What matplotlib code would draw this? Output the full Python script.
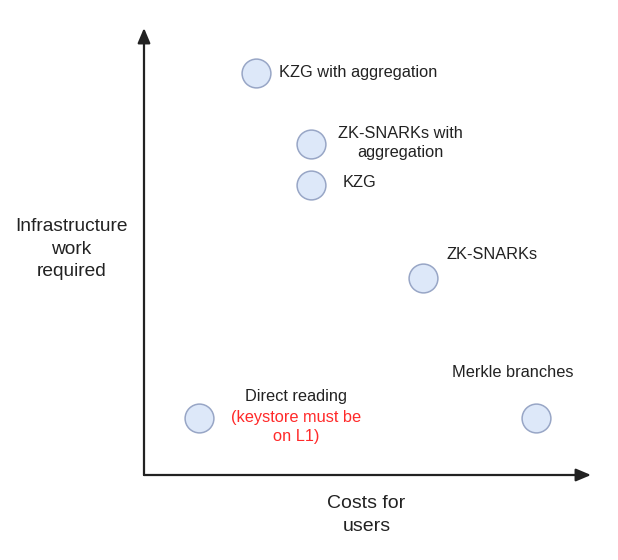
import matplotlib
matplotlib.use("Agg")
import matplotlib.pyplot as plt

plt.rcParams["font.family"] = ["Liberation Sans", "DejaVu Sans"]

# options plotted: cost for users (x) vs infrastructure work required (y), arbitrary 0-10 units
names = [
    "KZG with aggregation",
    "ZK-SNARKs with\naggregation",
    "KZG",
    "ZK-SNARKs",
    "Direct reading",
    "Merkle branches",
]
cost = [2.51, 3.74, 3.74, 6.24, 1.23, 8.77]
infra = [8.99, 7.40, 6.49, 4.41, 1.28, 1.28]
note = "(keystore must be\non L1)"

W, H = 618, 560
fig = plt.figure(figsize=(W / 100, H / 100), dpi=100)
x0, y0, x1, y1 = 144, 475, 591, 28
ax = fig.add_axes([x0 / W, 1 - y0 / H, (x1 - x0) / W, (y0 - y1) / H])
ax.set_xlim(0, 10)
ax.set_ylim(0, 10)
ax.axis("off")

ink = "#222222"
arrow = dict(arrowstyle="-|>,head_length=0.9,head_width=0.38", color=ink, lw=1.6,
             shrinkA=0, shrinkB=0)
ax.annotate("", xy=(0, 1), xytext=(0, 0), xycoords="axes fraction", arrowprops=arrow)
ax.annotate("", xy=(1, 0), xytext=(0, 0), xycoords="axes fraction", arrowprops=arrow)

ax.scatter(cost, infra, s=430, facecolor="#dde8f9", edgecolor="#98a6c6", lw=1.1,
           zorder=3, clip_on=False)

# label offsets in pixels from circle centre (dx, dy up) and alignment
px = 0.72
layout = [
    (23, 1, "left"),
    (89, 1.5, "center"),
    (31, 2, "left"),
    (24, 23, "left"),
    (97, 21, "center"),
    (-23, 45, "center"),
]
for n, xv, yv, (dx, dy, ha) in zip(names, cost, infra, layout):
    ax.annotate(n, (xv, yv), xytext=(dx * px, dy * px), textcoords="offset points",
                ha=ha, va="center", fontsize=11.8, color=ink, linespacing=1.36,
                annotation_clip=False)

ax.annotate(note, (cost[4], infra[4]), xytext=(97 * px, -9.5 * px),
            textcoords="offset points", ha="center", va="center", fontsize=11.8,
            color="#ff2a2a", linespacing=1.36, annotation_clip=False)

fig.text(71.5 / W, 1 - 249 / H, "Infrastructure\nwork\nrequired", ha="center",
         va="center", fontsize=13.8, color=ink, linespacing=1.46)
fig.text(366.5 / W, 1 - 515 / H, "Costs for\nusers", ha="center", va="center",
         fontsize=14, color=ink, linespacing=1.46)

fig.savefig("out.png", dpi=100, facecolor="white")
